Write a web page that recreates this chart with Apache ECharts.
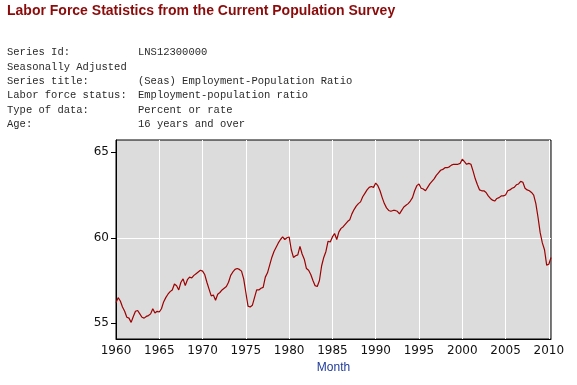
<!DOCTYPE html>
<html><head><meta charset="utf-8">
<script src="https://cdn.jsdelivr.net/npm/echarts@6/dist/echarts.min.js"></script>
<style>html,body{margin:0;padding:0;background:#fff}#c{width:577px;height:385px}</style>
</head><body><div id="c"></div>
<script>
const titleText = 'Labor Force Statistics from the Current Population Survey';
const infoLabels = ['Series Id:', 'Seasonally Adjusted', 'Series title:', 'Labor force status:', 'Type of data:', 'Age:'];
const infoValues = ['LNS12300000', '', '(Seas) Employment-Population Ratio', 'Employment-population ratio', 'Percent or rate', '16 years and over'];
const xAxisName = 'Month';
const xTickValues = [1960, 1965, 1970, 1975, 1980, 1985, 1990, 1995, 2000, 2005, 2010];
const yTickValues = [55, 60, 65];

// quarterly readings (Jan, Apr, Jul, Oct) starting Jan 1960
const startYear = 1960;
const stepYears = 0.25;
const values1960s = [
  56.2, 56.5, 56.3, 55.95,  55.7, 55.35, 55.3, 55.05,  55.4, 55.7, 55.75, 55.55,
  55.35, 55.3, 55.4, 55.45,  55.55, 55.85, 55.6, 55.7,  55.66, 55.85, 56.25, 56.5,
  56.7, 56.85, 56.95, 57.3,  57.2, 56.95, 57.4, 57.6,  57.2, 57.55, 57.7, 57.65,
  57.8, 57.9, 58.0, 58.1
];
const values1970s = [
  58.05, 57.85, 57.4, 57.0,  56.6, 56.65, 56.35, 56.7,  56.8, 56.95, 57.05, 57.15,
  57.4, 57.8, 58.0, 58.15,  58.2, 58.15, 58.05, 57.6,  56.8, 56.0, 55.95, 56.05,
  56.5, 56.95, 56.95, 57.05,  57.1, 57.7, 57.95, 58.4,  58.85, 59.2, 59.45, 59.7,
  59.9, 60.05, 59.9, 60.0
];
const values1980s = [
  60.05, 59.3, 58.85, 58.95,  59.0, 59.5, 59.05, 58.75,  58.2, 58.1, 57.85, 57.5,
  57.2, 57.15, 57.5, 58.35,  58.85, 59.2, 59.8, 59.75,  60.05, 60.25, 59.9, 60.35,
  60.55, 60.65, 60.8, 60.95,  61.05, 61.4, 61.65, 61.85,  62.0, 62.1, 62.4, 62.6,
  62.8, 62.95, 63.0, 62.95
];
const values1990s = [
  63.2, 63.05, 62.75, 62.35,  62.0, 61.75, 61.6, 61.55,  61.6, 61.6, 61.55, 61.4,
  61.6, 61.8, 61.9, 62.0,  62.15, 62.35, 62.75, 63.05,  63.15, 62.9, 62.85, 62.75,
  62.95, 63.15, 63.3, 63.45,  63.65, 63.8, 63.95, 64.0,  64.1, 64.1, 64.15, 64.25,
  64.3, 64.3, 64.3, 64.35
];
const values2000s = [
  64.6, 64.45, 64.3, 64.35,  64.3, 63.9, 63.45, 63.1,  62.8, 62.75, 62.75, 62.65,
  62.45, 62.3, 62.2, 62.15,  62.3, 62.35, 62.45, 62.45,  62.5, 62.75, 62.8, 62.9,
  62.95, 63.1, 63.15, 63.3,  63.25, 62.9, 62.8, 62.75,  62.65, 62.5, 62.0, 61.2,
  60.3, 59.7, 59.3, 58.4
];
const values2010s = [58.45, 58.85];

const allValues = [].concat(values1960s, values1970s, values1980s, values1990s, values2000s, values2010s);
const seriesData = allValues.map((v, i) => [startYear + i * stepYears, v]);
const xMax = startYear + (allValues.length - 1) * stepYears;

const monoFont = '10.5px "Liberation Mono", monospace';
const graphics = [{
  type: 'text', x: 7, y: 11,
  style: { text: titleText, font: 'bold 14px "Liberation Sans", Arial, sans-serif', fill: '#8b0a0a', verticalAlign: 'middle' }
}];
infoLabels.forEach((t, i) => {
  graphics.push({ type: 'text', x: 7, y: 52.5 + i * 14.4, style: { text: t, font: monoFont, fill: '#2a2a2a', verticalAlign: 'middle' } });
  if (infoValues[i]) {
    graphics.push({ type: 'text', x: 138, y: 52.5 + i * 14.4, style: { text: infoValues[i], font: monoFont, fill: '#2a2a2a', verticalAlign: 'middle' } });
  }
});

const chart = echarts.init(document.getElementById('c'), null, { renderer: 'canvas' });
chart.setOption({
  animation: false,
  backgroundColor: '#fff',
  graphic: graphics,
  grid: { left: 116, right: 26, top: 140, bottom: 46, show: true, backgroundColor: '#dcdcdc', borderColor: '#000', borderWidth: 1 },
  xAxis: {
    type: 'value', min: startYear, max: xMax, interval: 5,
    name: xAxisName, nameLocation: 'middle', nameGap: 22,
    nameTextStyle: { color: '#1f3a9a', fontFamily: 'Liberation Sans', fontSize: 12 },
    axisLine: { show: true, onZero: false, lineStyle: { color: '#000', width: 1 } },
    axisTick: { show: false },
    axisLabel: { customValues: xTickValues, color: '#111', fontFamily: 'DejaVu Sans', fontSize: 12, margin: 6, formatter: v => String(v) },
    splitLine: { show: true, showMinLine: false, showMaxLine: false, lineStyle: { color: '#fff', width: 1 } }
  },
  yAxis: {
    type: 'value', min: 54.08, max: 65.72, splitNumber: 2, minInterval: 5, maxInterval: 5,
    axisLine: { show: true, onZero: false, lineStyle: { color: '#000', width: 1 } },
    axisTick: { show: true, customValues: yTickValues, length: 5, lineStyle: { color: '#000' } },
    axisLabel: { customValues: yTickValues, color: '#111', fontFamily: 'DejaVu Sans', fontSize: 12, margin: 7 },
    splitLine: { show: true, showMinLine: false, showMaxLine: false, lineStyle: { color: '#fff', width: 1 } }
  },
  series: [{
    type: 'line', data: seriesData, showSymbol: false, symbol: 'none', silent: true,
    lineStyle: { color: '#9c0000', width: 1.2 }
  }]
});
</script></body></html>
